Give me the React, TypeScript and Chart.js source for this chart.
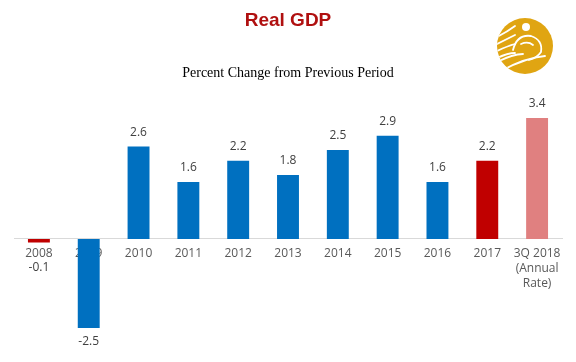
import React, { useEffect, useRef } from "react";
import { Chart, registerables } from "chart.js";

Chart.register(...registerables);

const categories: (string | string[])[] = [
  "2008", "2009", "2010", "2011", "2012", "2013", "2014", "2015", "2016", "2017",
  ["3Q 2018", "(Annual", "Rate)"],
];
const values = [-0.1, -2.5, 2.6, 1.6, 2.2, 1.8, 2.5, 2.9, 1.6, 2.2, 3.4];
const barColors = [
  "#c00000", "#0070c0", "#0070c0", "#0070c0", "#0070c0", "#0070c0",
  "#0070c0", "#0070c0", "#0070c0", "#c00000", "#e08080",
];
const titleText = "Real GDP";
const subtitleText = "Percent Change from Previous Period";

const decorPlugin = {
  id: "decor",
  beforeDraw(chart: any) {
    const ctx = chart.ctx;
    ctx.save();
    // title
    ctx.textAlign = "center";
    ctx.textBaseline = "middle";
    ctx.fillStyle = "#b01010";
    ctx.font = "bold 19px 'Liberation Sans', Arial, sans-serif";
    ctx.fillText(titleText, 288, 21);
    ctx.fillStyle = "#000000";
    ctx.font = "14px 'Liberation Serif', 'Times New Roman', serif";
    ctx.fillText(subtitleText, 288, 73);
    // logo
    const cx = 525, cy = 46, r = 28;
    ctx.beginPath();
    ctx.arc(cx, cy, r, 0, Math.PI * 2);
    ctx.fillStyle = "#e0a512";
    ctx.fill();
    ctx.save();
    ctx.beginPath();
    ctx.arc(cx, cy, r, 0, Math.PI * 2);
    ctx.clip();
    ctx.strokeStyle = "#ffffff";
    ctx.lineWidth = 1.8;
    ctx.lineCap = "round";
    // head outline
    ctx.beginPath();
    ctx.moveTo(cx - 12, cy + 4);
    ctx.quadraticCurveTo(cx - 8, cy - 12, cx + 6, cy - 10);
    ctx.quadraticCurveTo(cx + 18, cy - 6, cx + 16, cy + 6);
    ctx.quadraticCurveTo(cx + 12, cy + 12, cx + 4, cy + 14);
    ctx.stroke();
    // inner eye curve
    ctx.beginPath();
    ctx.moveTo(cx - 4, cy - 2);
    ctx.quadraticCurveTo(cx + 3, cy - 5, cx + 8, cy - 1);
    ctx.stroke();
    // left swooshes
    for (let k = 0; k < 4; k++) {
      ctx.beginPath();
      ctx.moveTo(cx - 30, cy - 8 + k * 7);
      ctx.quadraticCurveTo(cx - 18, cy - 14 + k * 7, cx - 10, cy - 20 + k * 9);
      ctx.stroke();
    }
    // long lower sweeps
    ctx.beginPath();
    ctx.moveTo(cx - 22, cy + 24);
    ctx.quadraticCurveTo(cx, cy + 12, cx + 20, cy + 10);
    ctx.stroke();
    ctx.beginPath();
    ctx.moveTo(cx - 28, cy + 16);
    ctx.quadraticCurveTo(cx - 12, cy + 8, cx - 2, cy + 8);
    ctx.stroke();
    // top dot
    ctx.beginPath();
    ctx.arc(cx + 1, cy - 19, 4, 0, Math.PI * 2);
    ctx.fillStyle = "#ffffff";
    ctx.fill();
    ctx.restore();
    ctx.restore();
  },
  afterDatasetsDraw(chart: any) {
    const ctx = chart.ctx;
    const meta = chart.getDatasetMeta(0);
    const yScale = chart.scales.y;
    const zeroY = yScale.getPixelForValue(0);
    ctx.save();
    ctx.textAlign = "center";
    ctx.textBaseline = "middle";
    ctx.fillStyle = "#404040";
    ctx.font = "12px 'Open Sans', 'Noto Sans', sans-serif";
    meta.data.forEach((bar: any, i: number) => {
      const v = values[i];
      let y: number;
      if (v >= 0) {
        y = bar.y - 14;
      } else {
        y = Math.max(bar.y + 14, zeroY + 29);
      }
      ctx.fillText(v.toFixed(1), bar.x, y);
    });
    ctx.restore();
  },
};

export default function App() {
  const ref = useRef<HTMLCanvasElement>(null);
  useEffect(() => {
    if (!ref.current) return;
    const chart = new Chart(ref.current, {
      type: "bar",
      data: {
        labels: categories as any,
        datasets: [
          {
            data: values,
            backgroundColor: barColors,
            barPercentage: 0.44,
            categoryPercentage: 1,
          },
        ],
      },
      options: {
        animation: false,
        responsive: false,
        layout: { padding: { top: 96.6, bottom: 16.2, left: 14, right: 14 } },
        plugins: {
          legend: { display: false },
          tooltip: { enabled: false },
          title: { display: false },
        },
        scales: {
          x: {
            position: { y: 0 } as any,
            grid: { display: false, drawTicks: false },
            border: { display: true, color: "#d9d9d9", width: 1 },
            ticks: {
              color: "#595959",
              font: { size: 12, family: "'Open Sans', 'Noto Sans', sans-serif", lineHeight: 1.25 },
              padding: 7,
              maxRotation: 0,
              autoSkip: false,
            },
          },
          y: {
            display: false,
            min: -3,
            max: 4,
          },
        },
      },
      plugins: [decorPlugin],
    });
    return () => chart.destroy();
  }, []);
  return (
    <div style={{ position: "fixed", left: 0, top: 0, width: 576, height: 362, background: "#fff" }}>
      <canvas ref={ref} width={576} height={362} style={{ width: 576, height: 362 }} />
    </div>
  );
}
